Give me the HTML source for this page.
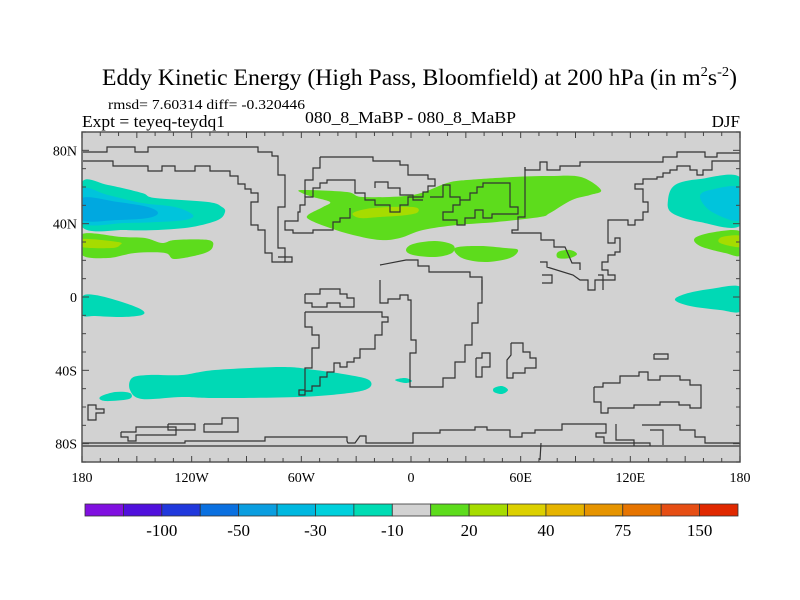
<!DOCTYPE html>
<html><head><meta charset="utf-8"><style>
html,body{margin:0;padding:0;background:#fff;}
svg{display:block;font-family:"Liberation Serif",serif;}
</style></head><body>
<svg id="c" width="800" height="600" viewBox="0 0 800 600" xmlns="http://www.w3.org/2000/svg">
<text x="102" y="85" font-size="23" textLength="635" lengthAdjust="spacingAndGlyphs">Eddy Kinetic Energy (High Pass, Bloomfield) at 200 hPa (in m<tspan font-size="14" dy="-9">2</tspan><tspan dy="9">s</tspan><tspan font-size="14" dy="-9">-2</tspan><tspan dy="9">)</tspan></text>
<text x="108" y="109" font-size="14" textLength="197" lengthAdjust="spacingAndGlyphs">rmsd= 7.60314 diff= -0.320446</text>
<text x="82" y="127" font-size="17" textLength="143" lengthAdjust="spacingAndGlyphs">Expt = teyeq-teydq1</text>
<text x="305" y="123" font-size="17" textLength="211" lengthAdjust="spacingAndGlyphs">080_8_MaBP - 080_8_MaBP</text>
<text x="740" y="127" font-size="17" text-anchor="end">DJF</text>
<defs><clipPath id="pc"><rect x="82" y="132" width="658" height="330"/></clipPath></defs>
<rect x="82" y="132" width="658" height="330" fill="#d2d2d2"/>
<g id="fills" clip-path="url(#pc)"></g>
<g id="coast" clip-path="url(#pc)" fill="none" stroke="#333" stroke-width="1.2"></g>
<rect x="82" y="132" width="658" height="330" fill="none" stroke="#555" stroke-width="1.5"/>
<g id="ticks" stroke="#444" stroke-width="1"></g>
<g id="labels" font-size="14"></g>
<g id="cbar"></g>
</svg>
<script>
// contour outlines (pixel-space polygons)
const cyanWestPacific=[[82,182],[108,185],[142,193],[155,198],[208,202],[222,207],[225,212],[218,220],[192,227],[158,230],[125,230],[82,227]];
const skyWestPacific=[[82,189],[108,195],[142,203],[175,207],[193,215],[185,220],[158,222],[125,223],[82,223]];
const blueWestPacific=[[82,198],[118,202],[148,207],[158,213],[148,218],[118,220],[82,220]];
const greenWestPacific=[[82,234],[122,237],[145,238],[162,243],[175,240],[208,240],[213,246],[205,253],[175,259],[165,253],[135,253],[108,258],[82,255]];
const ygWestPacific=[[82,239],[118,242],[120,245],[112,248],[82,247]];
const cyanEast=[[741,178],[700,179],[675,185],[668,200],[672,213],[700,222],[741,225]];
const skyEast=[[741,188],[710,190],[700,197],[712,212],[741,220]];
const greenEast=[[741,232],[715,232],[695,238],[700,246],[725,253],[741,255]];
const ygEast=[[741,236],[722,237],[720,243],[741,247]];
const greenAtlantic=[[302,190],[347,192],[363,197],[413,195],[447,183],[467,180],[513,177],[550,176],[581,177],[601,190],[590,195],[572,200],[550,213],[540,217],[497,222],[457,225],[423,230],[400,238],[380,240],[353,235],[330,228],[310,220],[308,215],[323,207],[330,202],[313,197],[302,193]];
const ygAtlantic=[[353,213],[373,208],[413,207],[418,212],[407,215],[380,217],[360,218]];
const greenBlobA=[[413,244],[435,241],[453,245],[452,253],[435,257],[413,255],[406,250]];
const greenBlobB=[[455,248],[480,246],[505,248],[518,250],[510,258],[485,262],[462,258]];
const greenBlobC=[[558,252],[570,250],[577,254],[570,258],[558,258]];
const cyanEqWest=[[82,297],[95,295],[122,302],[142,310],[142,315],[122,317],[95,316],[82,315]];
const cyanEqEast=[[741,287],[710,289],[685,294],[675,300],[690,306],[720,310],[741,311]];
const cyanSouthPac=[[132,378],[149,375],[182,375],[215,370],[282,367],[315,370],[349,375],[369,380],[369,388],[349,393],[299,397],[215,398],[182,397],[142,399],[130,390]];
const cyanSouthSmall=[[100,397],[115,392],[130,393],[129,399],[105,401]];
const cyanTinyA=[[395,380],[405,378],[412,381],[405,383]];
const cyanTinyB=[[494,388],[502,386],[508,390],[502,394],[494,392]];
const fillColors={cyan:"#00d9b5",sky:"#00c4dc",blue:"#00a8e0",green:"#5ddc1c",yg:"#a6dc00"};
const fillLayers=[["cyan",cyanWestPacific],["sky",skyWestPacific],["blue",blueWestPacific],["green",greenWestPacific],["yg",ygWestPacific],["cyan",cyanEast],["sky",skyEast],["green",greenEast],["yg",ygEast],["green",greenAtlantic],["yg",ygAtlantic],["green",greenBlobA],["green",greenBlobB],["green",greenBlobC],["cyan",cyanEqWest],["cyan",cyanEqEast],["cyan",cyanSouthPac],["cyan",cyanSouthSmall],["cyan",cyanTinyA],["cyan",cyanTinyB]];
// coastlines (pixel-space polylines)
const coastLines=[
[[83,152],[107,152],[107,147],[135,147],[135,152],[148,152],[148,147],[155,147],[258,147],[258,152],[272,152],[272,156],[278,156],[278,175],[285,175],[285,207],[278,207],[278,248],[285,248],[285,262],[292,262],[292,257],[278,257]],
[[83,161],[113,161],[113,166],[148,166],[148,171],[162,171],[162,166],[175,166],[175,171],[195,171],[195,166],[210,166],[210,171],[230,171],[230,176],[238,176],[238,184],[245,184],[245,189],[251,189],[251,193],[258,193],[258,202],[251,202],[251,225],[258,225],[258,230],[265,230],[265,253],[272,253],[272,262],[285,262]],
[[320,157],[373,157],[373,161],[400,161],[400,165],[408,165],[408,175],[428,175],[428,179],[435,179],[435,186],[428,186],[428,192],[423,192],[423,197],[408,197],[408,205],[400,205],[400,212],[390,212],[390,205],[375,205],[375,200],[365,200],[365,193],[355,193],[355,180],[327,180],[327,183],[320,183],[320,188],[313,188],[313,197],[305,197],[305,205],[300,205],[300,212],[298,212],[298,221],[285,221],[285,230],[293,230],[293,233],[313,233],[313,230],[333,230],[333,222],[340,222],[340,218],[350,218],[350,208]],
[[320,157],[320,168],[313,168],[313,180],[305,180],[305,197]],
[[375,188],[375,182],[388,182],[388,188],[400,188],[400,195],[413,195],[413,200],[423,200]],
[[430,197],[443,197],[443,185],[450,185],[450,197],[460,197],[460,205],[453,205],[453,212],[443,212],[443,220],[457,220],[457,225],[465,225],[465,218],[475,218],[475,210],[483,210],[483,218],[492,218],[492,214],[518,214],[518,207],[510,207],[510,183],[483,183],[483,187],[477,187],[477,193],[470,193],[470,200],[460,200]],
[[525,167],[525,170],[540,170],[540,162],[547,162],[547,170],[553,170],[560,170],[560,166],[580,166],[580,162],[663,162],[663,157],[677,157],[677,152],[705,152],[705,157],[717,157],[717,153],[741,153]],
[[741,161],[712,161],[712,170],[703,170],[703,175],[697,175],[697,170],[690,170],[690,166],[677,166],[677,170],[670,170],[670,173],[663,173],[663,177],[657,177],[657,179],[643,179],[643,184],[635,184],[635,189],[643,189],[643,202],[648,202],[648,212],[643,212],[643,220],[635,220],[635,225],[628,225],[628,220],[608,220],[608,243],[615,243],[615,238],[620,238],[620,252],[615,252],[615,255],[608,255],[608,262],[602,262],[602,270],[608,270],[608,275],[615,275],[615,280],[602,280],[595,280],[595,290],[588,290],[588,280],[580,280],[573,275],[547,267],[547,262],[540,262]],
[[525,167],[525,217],[518,217],[518,230],[512,230],[512,233],[541,233],[541,240],[554,240],[554,247],[565,247],[572,263],[580,263],[580,270]],
[[380,280],[380,303],[388,303],[388,299],[400,299],[400,295],[408,295],[408,300],[411,300],[411,340],[416,340],[416,353],[410,353],[410,387],[443,387],[443,378],[455,378],[455,362],[465,362],[465,345],[472,345],[472,323],[478,323],[478,303],[482,303],[482,280]],
[[380,265],[406,260],[418,260],[418,266],[429,266],[429,272],[470,272],[470,277],[482,277],[482,290]],
[[305,312],[382,312],[382,317],[388,317],[388,322],[382,322],[382,335],[375,335],[375,349],[360,349],[360,358],[354,358],[354,362],[347,362],[347,367],[340,367],[340,363],[334,363],[334,372],[327,372],[327,377],[320,377],[320,386],[312,386],[312,391],[305,391],[305,395],[299,395],[299,390],[305,390],[305,368],[312,368],[312,348],[319,348],[319,335],[312,335],[312,327],[305,327],[305,312]],
[[305,294],[320,294],[320,289],[340,289],[340,294],[347,294],[347,298],[354,298],[354,307],[340,307],[340,303],[327,303],[327,307],[312,307],[312,303],[305,303],[305,294]],
[[594,387],[603,387],[603,383],[620,383],[620,376],[639,376],[639,372],[648,372],[648,380],[660,380],[660,376],[680,376],[680,380],[690,380],[690,385],[701,385],[701,408],[690,408],[690,405],[679,405],[679,402],[660,402],[660,405],[634,405],[634,408],[608,408],[608,413],[601,413],[601,402],[594,402],[594,387]],
[[654,354],[668,354],[668,359],[654,359],[654,354]],
[[476,358],[482,358],[482,353],[490,353],[490,367],[482,367],[482,377],[476,377],[476,358]],
[[511,343],[523,343],[523,352],[530,352],[530,358],[536,358],[536,368],[525,368],[525,373],[513,373],[513,378],[507,378],[507,360],[511,355],[511,343]],
[[82,446],[740,446]],
[[82,443],[185,443],[185,441],[265,441],[265,437],[347,437],[347,441],[348,443],[355,443],[360,436],[366,436],[366,443],[413,443],[413,433],[440,433],[440,430],[475,430],[475,427],[487,427],[487,430],[510,430],[510,437],[522,437],[522,433],[535,433],[535,430],[562,430],[562,424],[606,424],[606,433],[596,433],[596,437],[604,437],[604,443],[650,443],[650,446]],
[[121,432],[136,432],[136,427],[176,427],[176,435],[136,435],[136,441],[128,441],[128,437],[121,437],[121,432]],
[[168,424],[195,424],[195,430],[168,430],[168,424]],
[[204,424],[222,424],[222,418],[238,418],[238,432],[204,432],[204,424]],
[[88,413],[88,420],[96,420],[96,413],[104,413],[104,409],[96,409],[96,405],[88,405],[88,413]],
[[642,425],[680,425],[680,430],[695,430],[695,437],[705,437],[705,443],[740,443]],
[[616,424],[616,440],[634,440],[634,446]],
[[650,430],[663,430],[663,445]],
[[540,460],[541,443]],
[[542,275],[552,275],[552,283],[542,283]],
[[598,275],[603,275],[603,290]]
];
// colorbar data
const cbarColors=["#8010e0","#5010dc","#2038dc","#0a70e0","#0a9ee0","#00b8e0","#00d0dc","#00dcb4","#d2d2d2","#5ddc1c","#a6dc00","#dcd000","#e6b400","#e69400","#e67400","#e64e14","#e02800"];
const cbarLabels=["-100","-50","-30","-10","20","40","75","150"];
const latTicks=[80,40,0,-40,-80];
const lonTicks=[-180,-120,-60,0,60,120,180];
const lonTickLabels=["180","120W","60W","0","60E","120E","180"];

const NS="http://www.w3.org/2000/svg";
const X=lon=>82+(lon+180)*658/360;
const Y=lat=>297-lat*330/180;
function mk(tag,attrs,parent){const e=document.createElementNS(NS,tag);for(const k in attrs)e.setAttribute(k,attrs[k]);parent.appendChild(e);return e;}
function smooth(pts){let d="";const n=pts.length;for(let i=0;i<n;i++){const p0=pts[(i-1+n)%n],p1=pts[i],p2=pts[(i+1)%n],p3=pts[(i+2)%n];if(i===0)d+="M"+p1[0]+","+p1[1];const c1=[p1[0]+(p2[0]-p0[0])/6,p1[1]+(p2[1]-p0[1])/6],c2=[p2[0]-(p3[0]-p1[0])/6,p2[1]-(p3[1]-p1[1])/6];d+="C"+c1.join(",")+" "+c2.join(",")+" "+p2.join(",");}return d+"Z";}
const fills=document.getElementById("fills");
fillLayers.forEach((L,i)=>{
  const p=mk("path",{d:smooth(L[1]),fill:fillColors[L[0]]},fills);
  
  
});
const coast=document.getElementById("coast");
coastLines.forEach(l=>{
  const p=mk("polyline",{points:l.map(q=>q.join(",")).join(" ")},coast);
  
  
});
const ticks=document.getElementById("ticks");
for(let lon=-180;lon<=180;lon+=10){const x=X(lon);const len=lon%30===0?6:4;
  mk("line",{x1:x,y1:132,x2:x,y2:132+len},ticks);mk("line",{x1:x,y1:462,x2:x,y2:462-len},ticks);}
for(let lat=-90;lat<=90;lat+=10){const y=Y(lat);const len=lat%40===0?7:4;
  mk("line",{x1:82,y1:y,x2:82+len,y2:y},ticks);mk("line",{x1:740,y1:y,x2:740-len,y2:y},ticks);}
const labels=document.getElementById("labels");
latTicks.forEach(v=>{const t=mk("text",{x:77,y:Y(v)+5,"text-anchor":"end"},labels);t.textContent=v===0?"0":Math.abs(v)+(v>0?"N":"S");
  
  });
lonTicks.forEach((v,i)=>{const t=mk("text",{x:X(v),y:482,"text-anchor":"middle"},labels);t.textContent=lonTickLabels[i];
  
  });
const cb=document.getElementById("cbar");
const cx0=85,cw=(738-85)/cbarColors.length;
cbarColors.forEach((c,i)=>{const r=mk("rect",{x:cx0+i*cw,y:504,width:cw,height:12,fill:c,stroke:"#333","stroke-width":0.8},cb);
  
  });
cbarLabels.forEach((s,i)=>{const t=mk("text",{x:cx0+(2*i+2)*cw,y:536,"text-anchor":"middle","font-size":17},cb);t.textContent=s;
  
  });
</script>
</body></html>
